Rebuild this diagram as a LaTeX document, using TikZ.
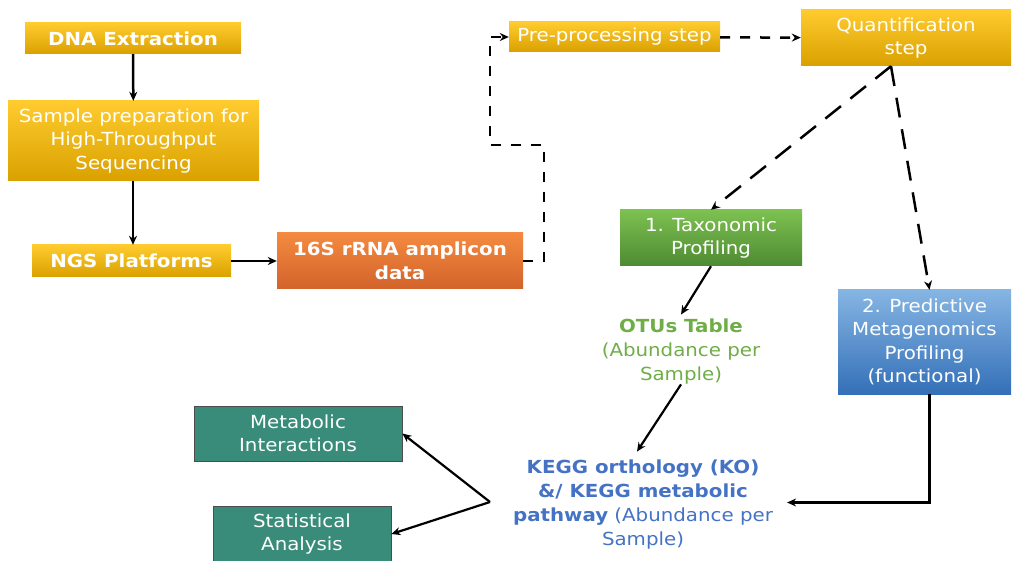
\documentclass[tikz,border=0pt]{standalone}
\usepackage{fontspec}
\setmainfont{DejaVu Sans}[FakeStretch=1.1]
\usetikzlibrary{arrows.meta,calc}

\definecolor{goldtop}{HTML}{FFCB2E}
\definecolor{goldbot}{HTML}{D9A100}
\definecolor{orgtop}{HTML}{F48A40}
\definecolor{orgbot}{HTML}{D2632A}
\definecolor{grntop}{HTML}{7DC151}
\definecolor{grnbot}{HTML}{4E8A32}
\definecolor{blutop}{HTML}{85B5E3}
\definecolor{blubot}{HTML}{3470B8}
\definecolor{tealbox}{HTML}{3A8C7A}
\definecolor{otugreen}{HTML}{6FAD47}
\definecolor{keggblue}{HTML}{4472C4}

\tikzset{
  box/.style={inner sep=0pt, align=center, text=white,
    font=\fontsize{18}{23.5}\selectfont},
  goldbox/.style={box, top color=goldtop, bottom color=goldbot},
  orangebox/.style={box, top color=orgtop, bottom color=orgbot},
  greenbox/.style={box, top color=grntop, bottom color=grnbot},
  bluebox/.style={box, top color=blutop, bottom color=blubot},
  tealnode/.style={box, fill=tealbox, draw=black!70, line width=0.8pt},
  plaintext/.style={inner sep=0pt, align=center,
    font=\fontsize{18}{24}\selectfont},
  link/.style={line width=2.5pt, -{Stealth[length=9pt,width=8pt]}},
  shortdash/.style={link, dash pattern=on 10pt off 10pt},
  longdash/.style={link, dash pattern=on 20pt off 12pt},
  thinlink/.style={link, line width=2.2pt},
}

\begin{document}
\begin{tikzpicture}[x=1pt, y=-1pt]
\useasboundingbox (0,0) rectangle (1012,561);

% left column
\node[goldbox, minimum width=216pt, minimum height=31pt] (dna) at (133,38.5)
  {\textbf{DNA Extraction}};
\node[goldbox, minimum width=251pt, minimum height=80pt] (prep) at (133.5,141)
  {Sample preparation for\\High-Throughput\\Sequencing};
\node[goldbox, minimum width=199pt, minimum height=32pt] (ngs) at (131.5,261)
  {\textbf{NGS Platforms}};
\node[orangebox, minimum width=246pt, minimum height=56pt] (amp) at (400,261)
  {\textbf{16S rRNA amplicon}\\\textbf{data}};

% top row
\node[goldbox, minimum width=211pt, minimum height=30pt] (pre) at (614.5,37)
  {Pre-processing step};
\node[goldbox, minimum width=210pt, minimum height=56pt] (quant) at (906,38)
  {Quantification\\step};

% profiling branches
\node[greenbox, minimum width=182pt, minimum height=56pt] (tax) at (711,238)
  {1. Taxonomic\\Profiling};
\node[bluebox, minimum width=173pt, minimum height=104pt] (pred) at (924.5,342)
  {2. Predictive\\Metagenomics\\Profiling\\(functional)};

\node[plaintext, text=otugreen] (otu) at (681,351.5)
  {\textbf{OTUs Table}\\(Abundance per\\Sample)};
\node[plaintext, text=keggblue, inner xsep=14pt] (kegg) at (643,504.5)
  {\textbf{KEGG orthology (KO)}\\\textbf{\&/ KEGG metabolic}\\\textbf{pathway} (Abundance per\\Sample)};

% downstream analyses
\node[tealnode, minimum width=208pt, minimum height=55pt] (metab) at (298,433.5)
  {Metabolic\\Interactions};
\node[tealnode, minimum width=178pt, minimum height=56pt] (stat) at (302,534)
  {Statistical\\Analysis};

% routing points
\coordinate (split) at (490,502);
\coordinate (apex) at ([xshift=-15pt]quant.south);

% connectors
\draw[link] (dna) -- (prep);
\draw[link] (prep.south -| dna) -- (ngs.north -| dna);
\draw[link] (ngs) -- (amp);
\draw[shortdash] (amp.east) -- ++(21,0) |- (490,145) |- (pre.west);
\draw[shortdash] (pre) -- (quant);
\draw[longdash] (apex) -- (tax.north);
\draw[longdash] (apex) -- ([xshift=5pt]pred.north);
\draw[thinlink] (tax.south) -- ([yshift=4pt]otu.north);
\draw[thinlink] (otu.south) -- ([shift={(-6pt,8pt)}]kegg.north);
\draw[thinlink] ([xshift=5pt]pred.south) |- ([yshift=2pt]kegg.east);
\draw[thinlink] (split) -- (metab.east);
\draw[thinlink] (split) -- (stat.east);
\end{tikzpicture}
\end{document}
